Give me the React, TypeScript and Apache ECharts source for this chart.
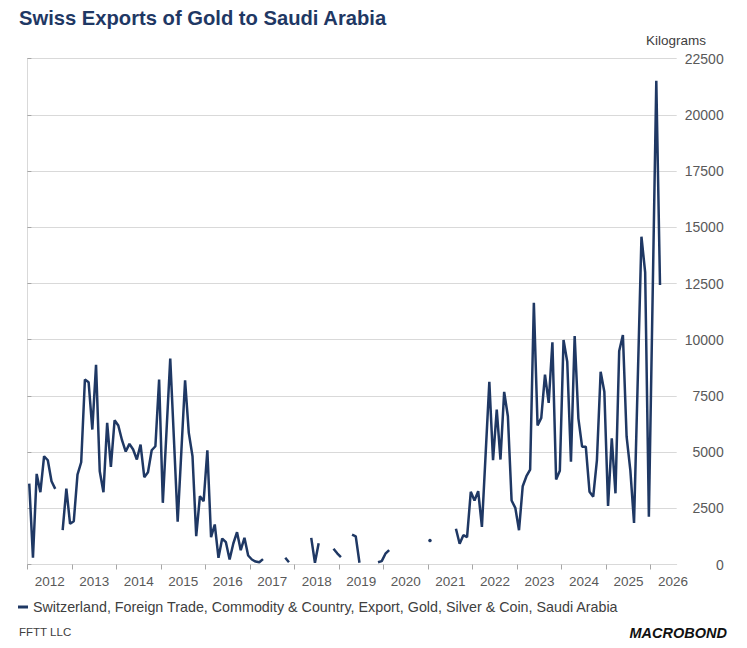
import { useEffect, useRef } from "react";
import * as echarts from "echarts";

const NAVY = "#1f3864";
const FONT = "Liberation Sans";

const TITLE = "Swiss Exports of Gold to Saudi Arabia";
const UNIT = "Kilograms";
const SERIES_NAME =
  "Switzerland, Foreign Trade, Commodity & Country, Export, Gold, Silver & Coin, Saudi Arabia";

// monthly kilograms, Jan..Dec, null = no data
const KG_2012 = [3600, 300, 4030, 3215, 4816, 4638, 3705, 3366, null, 1526, 3380, 1810];
const KG_2013 = [1926, 4002, 4549, 8227, 8107, 6003, 8880, 4149, 3215, 6301, 4345, 6417];
const KG_2014 = [6181, 5528, 5025, 5367, 5114, 4669, 5336, 3882, 4105, 5083, 5261, 8227];
const KG_2015 = [2744, 5950, 9161, 5550, 1900, 5050, 8196, 5857, 4817, 1259, 3037, 2815];
const KG_2016 = [5083, 1214, 1779, 298, 1156, 992, 222, 934, 1436, 636, 1187, 400];
const KG_2017 = [222, 130, 100, 240, null, null, null, null, null, 300, 100, null];
const KG_2018 = [null, null, null, null, 1187, 75, 950, null, null, null, 700, 500];
const KG_2019 = [330, null, null, 1330, 1250, 80, null, null, null, null, 100, 150];
const KG_2020 = [480, 640, null, null, null, null, null, null, null, null, null, null];
const KG_2021 = [1067, null, null, null, null, null, null, 1587, 920, 1304, 1214, 3233];
const KG_2022 = [2846, 3260, 1676, 4900, 8125, 4638, 6893, 4669, 7680, 6595, 2846, 2521];
const KG_2023 = [1525, 3482, 3927, 4225, 11638, 6181, 6524, 8449, 7191, 9886, 3780, 4170];
const KG_2024 = [9986, 9021, 4573, 10164, 6503, 5240, 5240, 3238, 3016, 4648, 8576, 7686];
const KG_2025 = [2602, 5613, 3167, 9497, 10208, 5685, 4203, 1850, 8200, 14581, 13000, 2126];
const KG_2026 = [11800, 21519, 12432];

const KILOGRAMS: (number | null)[] = [
  ...KG_2012, ...KG_2013, ...KG_2014, ...KG_2015, ...KG_2016,
  ...KG_2017, ...KG_2018, ...KG_2019, ...KG_2020, ...KG_2021,
  ...KG_2022, ...KG_2023, ...KG_2024, ...KG_2025, ...KG_2026,
];

const YEARS = [2012, 2013, 2014, 2015, 2016, 2017, 2018, 2019, 2020, 2021, 2022, 2023, 2024, 2025, 2026];
const START_YEAR = YEARS[0];
const MONTHS_SHOWN = 175; // axis runs Jan 2012 .. end of Jul 2026

export default function App() {
  const ref = useRef<HTMLDivElement>(null);

  useEffect(() => {
    if (!ref.current) return;
    const chart = echarts.init(ref.current, null, { renderer: "svg" });

    // plot each month at its middle; a lone month gets a dot
    const data = KILOGRAMS.map((v, i) => {
      const pt = [i + 0.5, v];
      const lone = v != null && KILOGRAMS[i - 1] == null && KILOGRAMS[i + 1] == null;
      return lone ? { value: pt, symbol: "circle", symbolSize: 3.5 } : pt;
    });

    chart.setOption({
      animation: false,
      backgroundColor: "#ffffff",
      textStyle: { fontFamily: FONT },
      grid: { left: 27.4, right: 70.3, top: 58.7, bottom: 83.5 },
      xAxis: {
        type: "value",
        min: 0,
        max: MONTHS_SHOWN,
        axisLine: { show: true, lineStyle: { color: "#d9d9d9", width: 1 } },
        axisTick: {
          show: true,
          length: 5,
          lineStyle: { color: "#a6a6a6" },
          customValues: YEARS.map((y) => (y - START_YEAR) * 12),
        },
        axisLabel: {
          color: "#595959",
          fontSize: 13.5,
          margin: 10,
          customValues: YEARS.map((y) => (y - START_YEAR) * 12 + 6),
          formatter: (v: number) => String(START_YEAR + Math.floor(v / 12)),
        },
        splitLine: { show: false },
      },
      yAxis: {
        type: "value",
        position: "right",
        min: 0,
        max: 22500,
        interval: 2500,
        axisLine: { show: true, lineStyle: { color: "#d9d9d9" } },
        axisTick: { show: true, length: 4, lineStyle: { color: "#a6a6a6" } },
        axisLabel: {
          color: "#595959", fontSize: 14, align: "right", margin: 47,
          formatter: (v: number) => String(v),
        },
        splitLine: { show: true, lineStyle: { color: "#d9d9d9", width: 1 } },
      },
      legend: {
        show: true,
        left: 18,
        top: 600,
        padding: 0,
        icon: "rect",
        itemWidth: 10,
        itemHeight: 3,
        textStyle: { color: "#404040", fontSize: 14.3, fontFamily: FONT },
        data: [SERIES_NAME],
      },
      graphic: [
        {
          type: "text",
          left: 19,
          top: 8,
          style: { text: TITLE, fill: NAVY, font: `bold 20.2px "${FONT}"` },
        },
        {
          type: "text",
          x: 676,
          y: 40,
          style: {
            text: UNIT, fill: "#404040", font: `13.5px "${FONT}"`,
            textAlign: "center", textVerticalAlign: "middle",
          },
        },
        {
          type: "text",
          left: 19,
          top: 626,
          style: { text: "FFTT LLC", fill: "#404040", font: `11.5px "${FONT}"` },
        },
        {
          type: "text",
          right: 20,
          top: 625,
          style: { text: "MACROBOND", fill: "#111111", font: `italic 900 14.5px "${FONT}"` },
        },
      ],
      series: [
        {
          name: SERIES_NAME,
          type: "line",
          data,
          symbol: "none",
          showSymbol: true,
          connectNulls: false,
          color: NAVY,
          lineStyle: { color: NAVY, width: 2.5 },
          itemStyle: { color: NAVY },
        },
      ],
    });

    return () => chart.dispose();
  }, []);

  return (
    <div
      ref={ref}
      style={{ position: "fixed", left: 0, top: 0, width: 747, height: 648, background: "#fff" }}
    />
  );
}
